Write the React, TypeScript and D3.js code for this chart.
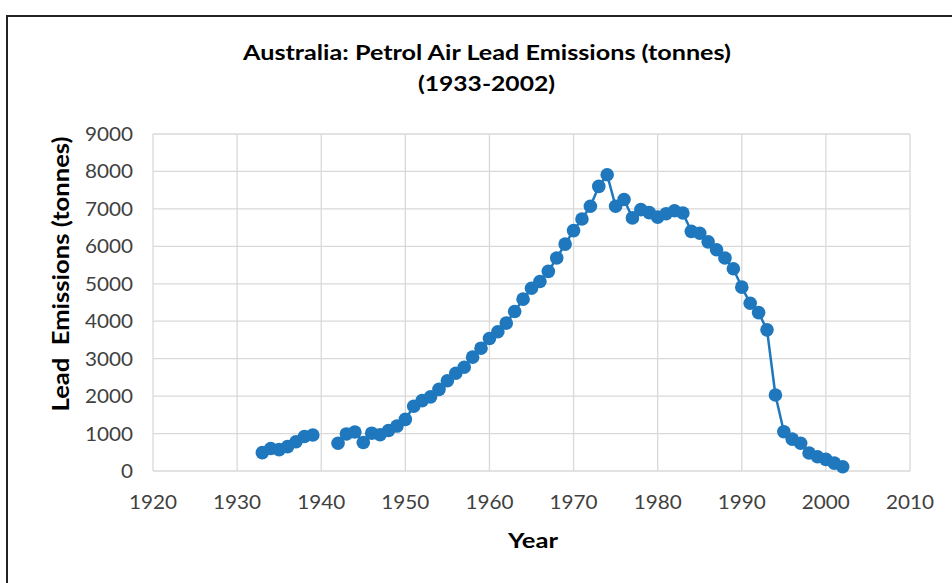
import React from "react";
import * as d3 from "d3";

const YEARS: number[] = [
  1933, 1934, 1935, 1936, 1937, 1938, 1939, 1940, 1941, 1942,
  1943, 1944, 1945, 1946, 1947, 1948, 1949, 1950, 1951, 1952,
  1953, 1954, 1955, 1956, 1957, 1958, 1959, 1960, 1961, 1962,
  1963, 1964, 1965, 1966, 1967, 1968, 1969, 1970, 1971, 1972,
  1973, 1974, 1975, 1976, 1977, 1978, 1979, 1980, 1981, 1982,
  1983, 1984, 1985, 1986, 1987, 1988, 1989, 1990, 1991, 1992,
  1993, 1994, 1995, 1996, 1997, 1998, 1999, 2000, 2001, 2002,
];
const EMISSIONS: (number | null)[] = [
  490, 600, 570, 650, 780, 920, 960, null, null, 740,
  990, 1040, 760, 1010, 970, 1080, 1200, 1380, 1730, 1880,
  1980, 2180, 2410, 2610, 2770, 3040, 3280, 3540, 3720, 3950,
  4260, 4590, 4880, 5060, 5330, 5690, 6060, 6420, 6730, 7070,
  7600, 7910, 7070, 7250, 6760, 6980, 6900, 6780, 6870, 6950,
  6890, 6400, 6350, 6120, 5910, 5690, 5400, 4910, 4480, 4230,
  3770, 2030, 1050, 850, 740, 480, 380, 310, 210, 115,
];
const X_TICKS: number[] = [1920, 1930, 1940, 1950, 1960, 1970, 1980, 1990, 2000, 2010];
const Y_TICKS: number[] = [0, 1000, 2000, 3000, 4000, 5000, 6000, 7000, 8000, 9000];
const TITLE_LINES: string[] = ["Australia: Petrol Air Lead Emissions (tonnes)", "(1933-2002)"];
const X_TITLE = "Year";
const Y_TITLE = "Lead  Emissions (tonnes)";

const W = 952;
const H = 583;
const FONT = "Lato, 'Open Sans', sans-serif";
const BLUE = "#1f78bd";
const GRID = "#d9d9d9";
const TEXT = "#404040";

export default function App() {
  const x = d3.scaleLinear().domain([1920, 2010]).range([153, 910]);
  const y = d3.scaleLinear().domain([0, 9000]).range([471, 134]);
  const pts = YEARS.map((yr, i) => ({ yr, v: EMISSIONS[i] }));
  const line = d3
    .line<{ yr: number; v: number | null }>()
    .defined((d) => d.v !== null)
    .x((d) => x(d.yr))
    .y((d) => y(d.v as number));

  return (
    <svg
      width={W}
      height={H}
      style={{ position: "absolute", left: 0, top: 0, background: "#fff" }}
      fontFamily={FONT}
    >
      <rect x={0} y={0} width={W} height={H} fill="#fff" />
      <rect x={7} y={16} width={1000} height={700} fill="none" stroke="#222" strokeWidth={2} />
      {/* gridlines */}
      {Y_TICKS.map((t) => (
        <line key={"h" + t} x1={x(1920)} x2={x(2010)} y1={y(t)} y2={y(t)} stroke={GRID} strokeWidth={1.3} />
      ))}
      {X_TICKS.map((t) => (
        <line key={"v" + t} x1={x(t)} x2={x(t)} y1={y(0)} y2={y(9000)} stroke={GRID} strokeWidth={1.3} />
      ))}
      {/* tick labels */}
      {Y_TICKS.map((t) => (
        <text
          key={"yl" + t}
          x={133}
          y={y(t) + 7}
          textAnchor="end"
          fontSize={19}
          fill={TEXT}
          textLength={String(t).length * 12}
          lengthAdjust="spacingAndGlyphs"
        >
          {t}
        </text>
      ))}
      {X_TICKS.map((t) => (
        <text
          key={"xl" + t}
          x={x(t)}
          y={509}
          textAnchor="middle"
          fontSize={19}
          fill={TEXT}
          textLength={48}
          lengthAdjust="spacingAndGlyphs"
        >
          {t}
        </text>
      ))}
      {/* series */}
      <path d={line(pts) || ""} fill="none" stroke={BLUE} strokeWidth={2.5} />
      {pts
        .filter((d) => d.v !== null)
        .map((d) => (
          <circle key={d.yr} cx={x(d.yr)} cy={y(d.v as number)} r={6.8} fill={BLUE} />
        ))}
      {/* titles */}
      <text
        x={487}
        y={60}
        textAnchor="middle"
        fontSize={21}
        fontWeight="bold"
        fill="#000"
        textLength={488}
        lengthAdjust="spacingAndGlyphs"
      >
        {TITLE_LINES[0]}
      </text>
      <text
        x={486.5}
        y={91}
        textAnchor="middle"
        fontSize={21}
        fontWeight="bold"
        fill="#000"
        textLength={137}
        lengthAdjust="spacingAndGlyphs"
      >
        {TITLE_LINES[1]}
      </text>
      <text
        x={533}
        y={548}
        textAnchor="middle"
        fontSize={21}
        fontWeight="bold"
        fill="#000"
        textLength={50}
        lengthAdjust="spacingAndGlyphs"
      >
        {X_TITLE}
      </text>
      <text
        transform={`translate(69,274) rotate(-90)`}
        textAnchor="middle"
        fontSize={22}
        fontWeight="bold"
        fill="#000"
        textLength={275}
        lengthAdjust="spacingAndGlyphs"
        style={{ whiteSpace: "pre" }}
      >
        {Y_TITLE}
      </text>
    </svg>
  );
}
